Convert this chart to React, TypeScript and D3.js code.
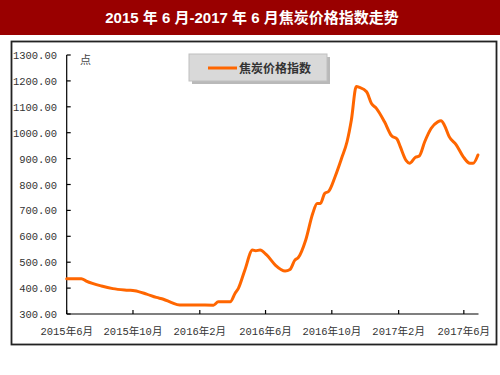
import { useEffect, useRef } from 'react';
import * as d3 from 'd3';

// 焦炭价格指数
const dates = [
    '2015-06-01', '2015-06-28', '2015-07-07', '2015-08-04', '2015-08-25', '2015-09-22',
    '2015-10-04', '2015-10-26', '2015-11-13', '2015-11-26', '2015-12-11', '2015-12-26',
    '2016-01-26', '2016-02-26', '2016-03-06', '2016-03-28', '2016-04-06', '2016-04-12',
    '2016-04-24', '2016-05-08', '2016-05-14', '2016-05-22', '2016-06-03', '2016-06-19',
    '2016-07-07', '2016-07-16', '2016-07-25', '2016-07-31', '2016-08-14', '2016-08-27',
    '2016-09-04', '2016-09-10', '2016-09-18', '2016-09-25', '2016-10-07', '2016-10-19',
    '2016-10-29', '2016-11-06', '2016-11-15', '2016-11-21', '2016-12-04', '2016-12-13',
    '2016-12-22', '2017-01-06', '2017-01-19', '2017-01-29', '2017-02-04', '2017-02-15',
    '2017-02-21', '2017-03-04', '2017-03-11', '2017-03-21', '2017-04-02', '2017-04-14',
    '2017-04-20', '2017-04-26', '2017-05-05', '2017-05-18', '2017-05-31', '2017-06-12',
    '2017-06-18', '2017-06-27',
];
const values = [
    436, 436, 427, 408, 398, 392,
    390, 377, 364, 357, 344, 335,
    335, 334, 347, 347, 380, 399,
    470, 547, 544, 547, 528, 489,
    466, 472, 508, 517, 586, 689,
    727, 727, 766, 773, 830, 901,
    965, 1049, 1178, 1175, 1158, 1113,
    1094, 1042, 988, 976, 946, 892,
    882, 905, 910, 965, 1017, 1042,
    1046, 1030, 985, 953, 907, 882,
    882, 914,
];
const tickDates = ['2015-06-01', '2015-10-01', '2016-02-01', '2016-06-01', '2016-10-01', '2017-02-01', '2017-06-01'];
const yTicks = [300, 400, 500, 600, 700, 800, 900, 1000, 1100, 1200, 1300];

const title = '2015 年 6 月-2017 年 6 月焦炭价格指数走势';
const seriesName = '焦炭价格指数';
const unit = '点';

export default function App() {
    const svgRef = useRef<SVGSVGElement>(null);

    useEffect(() => {
        if (!svgRef.current) return;
        const W = 500, H = 375;
        const parse = d3.timeParse('%Y-%m-%d');
        const data = dates.map((d, i) => ({ date: parse(d)!, value: values[i] }));

        const x = d3.scaleTime()
            .domain([parse('2015-06-01')!, parse('2017-06-28')!])
            .range([66.7, 478.5]);
        const y = d3.scaleLinear().domain([300, 1300]).range([314, 55]);

        const svg = d3.select(svgRef.current);
        svg.selectAll('*').remove();
        svg.attr('width', W).attr('height', H);

        const monoFont = '"Liberation Mono", "Noto Sans CJK SC", monospace';
        const cjkFont = '"Noto Sans CJK SC", sans-serif';

        svg.append('rect').attr('width', W).attr('height', H).attr('fill', '#fff');

        // Title bar
        svg.append('rect').attr('width', W).attr('height', 35).attr('fill', '#990000');
        svg.append('text')
            .attr('x', 252).attr('y', 23)
            .attr('text-anchor', 'middle')
            .attr('font-family', '"Liberation Sans", "Noto Sans CJK SC", sans-serif')
            .attr('font-weight', 'bold').attr('font-size', 15)
            .attr('fill', '#fff')
            .text(title);

        // Frame
        svg.append('rect')
            .attr('x', 11.5).attr('y', 41.5).attr('width', 485).attr('height', 303)
            .attr('fill', 'none').attr('stroke', '#222').attr('stroke-width', 1.8);

        // Y axis
        const yAxis = svg.append('g').attr('transform', `translate(${x.range()[0]},0)`);
        yAxis.append('line').attr('y1', y(1300)).attr('y2', y(300))
            .attr('stroke', '#000').attr('stroke-width', 1.2);
        yAxis.selectAll('.yt').data(yTicks).join('line')
            .attr('class', 'yt')
            .attr('x1', 0).attr('x2', 4)
            .attr('y1', d => y(d)).attr('y2', d => y(d))
            .attr('stroke', '#000').attr('stroke-width', 1.2);
        svg.selectAll('.yl').data(yTicks).join('text')
            .attr('class', 'yl')
            .attr('x', 57).attr('y', d => y(d) + 4)
            .attr('text-anchor', 'end')
            .attr('font-family', monoFont).attr('font-size', 10.5)
            .attr('fill', '#333')
            .text(d => d3.format('.2f')(d));

        // X axis
        const xAxis = svg.append('g').attr('transform', `translate(0,${y(300)})`);
        xAxis.append('line').attr('x1', x.range()[0]).attr('x2', x.range()[1])
            .attr('stroke', '#000').attr('stroke-width', 1.2);
        const tdates = tickDates.map(d => parse(d)!);
        xAxis.selectAll('.xt').data(tdates).join('line')
            .attr('class', 'xt')
            .attr('x1', d => x(d)).attr('x2', d => x(d))
            .attr('y1', 0).attr('y2', -4)
            .attr('stroke', '#000').attr('stroke-width', 1.2);
        const xl = svg.selectAll('.xl').data(tdates).join('text')
            .attr('class', 'xl')
            .attr('x', d => x(d)).attr('y', 335)
            .attr('text-anchor', 'middle')
            .attr('font-size', 10.5)
            .attr('fill', '#333');
        xl.append('tspan').attr('font-family', monoFont).text(d => String(d.getFullYear()));
        xl.append('tspan').attr('font-family', cjkFont).text('年');
        xl.append('tspan').attr('font-family', monoFont).text(d => String(d.getMonth() + 1));
        xl.append('tspan').attr('font-family', cjkFont).text('月');

        // Unit
        svg.append('text')
            .attr('x', 80).attr('y', 64)
            .attr('font-family', cjkFont).attr('font-size', 11)
            .attr('fill', '#444')
            .text(unit);

        // Line
        const line = d3.line<{ date: Date; value: number }>()
            .x(d => x(d.date)).y(d => y(d.value))
            .curve(d3.curveMonotoneX);
        svg.append('path').datum(data)
            .attr('d', line)
            .attr('fill', 'none')
            .attr('stroke', '#ff6600')
            .attr('stroke-width', 3)
            .attr('stroke-linejoin', 'round')
            .attr('stroke-linecap', 'round');

        // Legend
        const leg = svg.append('g').attr('transform', 'translate(189,54)');
        leg.append('rect').attr('x', 3).attr('y', 3).attr('width', 138).attr('height', 27)
            .attr('fill', '#8a8a8a').attr('opacity', 0.6);
        leg.append('rect').attr('width', 138).attr('height', 27)
            .attr('fill', '#d9d9d9').attr('stroke', '#bfbfbf').attr('stroke-width', 1);
        leg.append('line').attr('x1', 19).attr('x2', 48).attr('y1', 14).attr('y2', 14)
            .attr('stroke', '#ff6600').attr('stroke-width', 3);
        leg.append('text')
            .attr('x', 50).attr('y', 18.5)
            .attr('font-family', cjkFont).attr('font-size', 12).attr('font-weight', 'bold')
            .attr('fill', '#333')
            .text(seriesName);
    }, []);

    return (
        <div style={{ position: 'absolute', left: 0, top: 0 }}>
            <svg ref={svgRef} style={{ display: 'block' }} />
        </div>
    );
}
